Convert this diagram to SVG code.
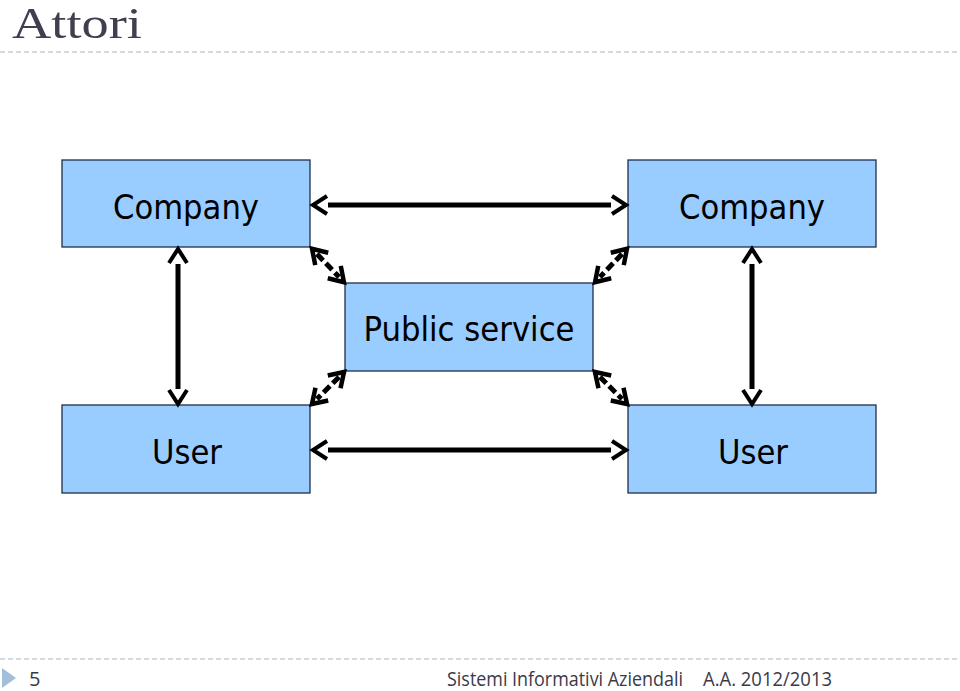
<svg xmlns="http://www.w3.org/2000/svg" width="960" height="691" viewBox="0 0 960 691">
<style>
.box{fill:#99CCFF;stroke:#1F2F4A;stroke-width:1.3}
.lbl{font-family:"DejaVu Sans",Verdana,sans-serif;font-size:34px;fill:#000;text-anchor:middle}
.shaft{stroke:#000;stroke-width:5;fill:none}
.dshaft{stroke:#000;stroke-width:5;fill:none;stroke-dasharray:9 4}
.sep{stroke:#A8B4C4;stroke-width:1.2;stroke-dasharray:5 3}
.foot{font-family:"Open Sans","Liberation Sans",sans-serif;font-size:20px;fill:#3A3A48}
</style>
<defs>
<marker id="ah" markerUnits="userSpaceOnUse" viewBox="-30 -20 40 40" markerWidth="40" markerHeight="40" refX="-15" refY="0" orient="auto-start-reverse" overflow="visible">
<path d="M -14,-9 L 0,0 L -14,9" fill="none" stroke="#000" stroke-width="4"/>
</marker>
<marker id="ahs" markerUnits="userSpaceOnUse" viewBox="-30 -20 40 40" markerWidth="40" markerHeight="40" refX="-7" refY="0" orient="auto-start-reverse" overflow="visible">
<path d="M -14,-9 L 0,0 L -14,9" fill="none" stroke="#000" stroke-width="4.5"/>
</marker>
</defs>
<rect width="960" height="691" fill="#fff"/>
<text x="12" y="38" font-family="'Liberation Serif','DejaVu Serif',serif" font-size="44" fill="#3F3F4F" textLength="130" lengthAdjust="spacingAndGlyphs">Attori</text>
<line class="sep" x1="0" y1="52" x2="960" y2="52"/>
<line class="sep" x1="0" y1="659" x2="960" y2="659"/>
<polygon points="2,668 16,678 2,688" fill="#A3BED8"/>
<text class="foot" x="29" y="686">5</text>
<text class="foot" x="447" y="686" textLength="236" lengthAdjust="spacingAndGlyphs">Sistemi Informativi Aziendali</text>
<text class="foot" x="703" y="686" textLength="129" lengthAdjust="spacingAndGlyphs">A.A. 2012/2013</text>
<g id="company-left"><rect class="box" x="62" y="160" width="248" height="87"/><text class="lbl" x="186" y="219" textLength="146" lengthAdjust="spacingAndGlyphs">Company</text></g>
<g id="company-right"><rect class="box" x="628" y="160" width="248" height="87"/><text class="lbl" x="752" y="219" textLength="146" lengthAdjust="spacingAndGlyphs">Company</text></g>
<g id="public-service"><rect class="box" x="345" y="283" width="248" height="88"/><text class="lbl" x="469" y="341" textLength="211" lengthAdjust="spacingAndGlyphs">Public service</text></g>
<g id="user-left"><rect class="box" x="62" y="405" width="248" height="88"/><text class="lbl" x="187" y="464" textLength="70" lengthAdjust="spacingAndGlyphs">User</text></g>
<g id="user-right"><rect class="box" x="628" y="405" width="248" height="88"/><text class="lbl" x="753" y="464" textLength="70" lengthAdjust="spacingAndGlyphs">User</text></g>
<g id="connectors">
<path class="shaft" d="M 328,205 L 611,205" marker-start="url(#ah)" marker-end="url(#ah)"/>
<path class="shaft" d="M 328,450 L 611,450" marker-start="url(#ah)" marker-end="url(#ah)"/>
<path class="shaft" d="M 178,264 L 178,389" marker-start="url(#ah)" marker-end="url(#ah)"/>
<path class="shaft" d="M 752,264 L 752,389" marker-start="url(#ah)" marker-end="url(#ah)"/>
<path class="dshaft" d="M 316.9,253.9 L 339.1,277.1" marker-start="url(#ahs)" marker-end="url(#ahs)"/>
<path class="dshaft" d="M 622.1,253.9 L 599.9,277.1" marker-start="url(#ahs)" marker-end="url(#ahs)"/>
<path class="dshaft" d="M 339.1,376.9 L 316.9,399.1" marker-start="url(#ahs)" marker-end="url(#ahs)"/>
<path class="dshaft" d="M 599.9,376.9 L 622.1,399.1" marker-start="url(#ahs)" marker-end="url(#ahs)"/>
</g>
</svg>
